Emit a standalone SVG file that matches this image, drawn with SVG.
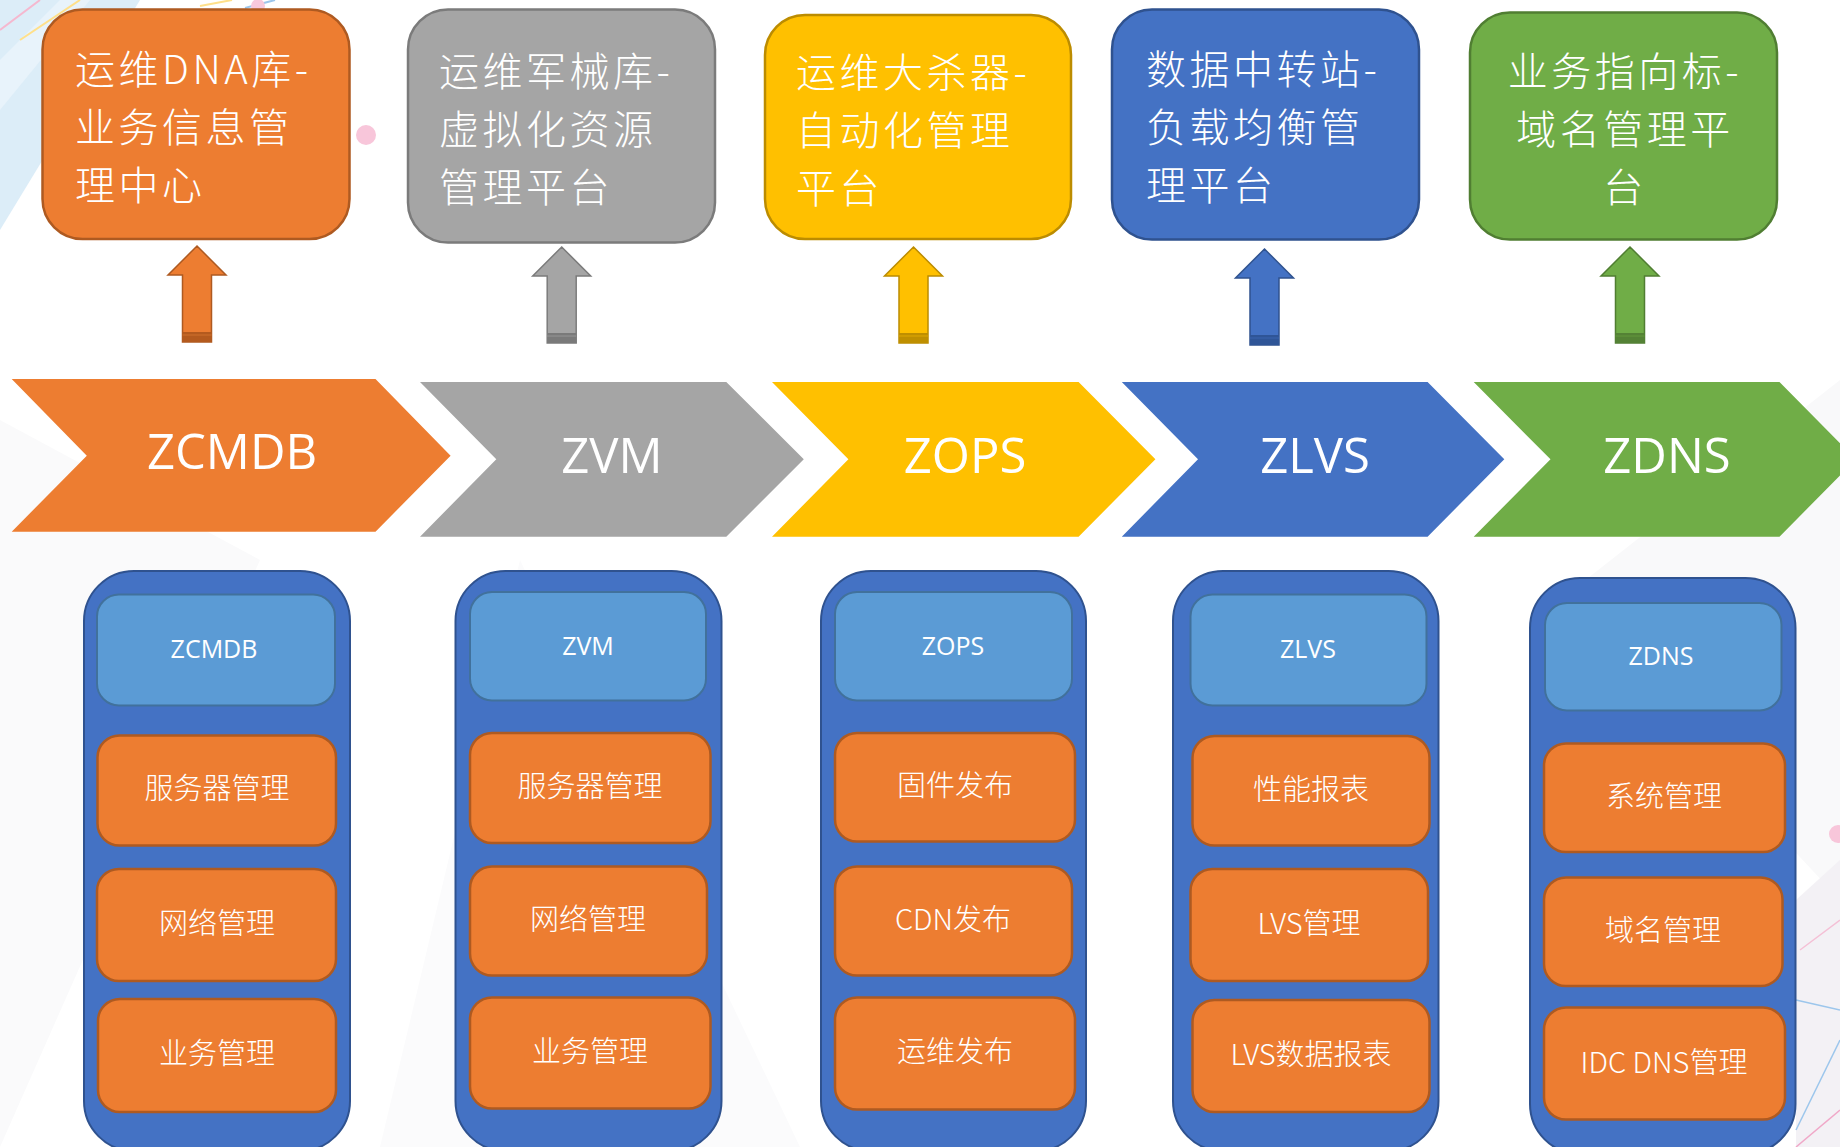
<svg xmlns="http://www.w3.org/2000/svg" width="1840" height="1147" viewBox="0 0 1840 1147">
<defs>
<style>
.bg{fill:#ffffff}
.title{font-family:"Noto Sans CJK SC","Noto Sans",sans-serif;font-size:40px;font-weight:300;letter-spacing:3.5px;fill:#ffffff}
.chev{font-family:"Open Sans","Noto Sans",sans-serif;font-size:49px;fill:#ffffff;text-anchor:middle}
.hdr{font-family:"Open Sans","Noto Sans",sans-serif;font-size:25px;fill:#ffffff;text-anchor:middle}
.item{font-family:"Noto Sans CJK SC","Noto Sans",sans-serif;font-size:29px;font-weight:300;fill:#ffffff;text-anchor:middle}
.orange{fill:#ED7D31;stroke:#AE5A21}
.gray{fill:#A5A5A5;stroke:#7B7B7B}
.yellow{fill:#FFC000;stroke:#BC8C00}
.blue{fill:#4472C4;stroke:#2F528F}
.green{fill:#70AD47;stroke:#507E32}
.box{stroke-width:2.5}
.chevron{stroke:none}
.arrow{stroke-width:1.5}
.col{fill:#4472C4;stroke:#2F528F;stroke-width:2}
.head{fill:#5B9BD5;stroke:#41719C;stroke-width:2}
.sub{fill:#ED7D31;stroke:#AE5A21;stroke-width:2.5}
.band-o{fill:#B45A1E}
.band-g{fill:#7A7A7A}
.band-y{fill:#BF8F00}
.band-b{fill:#2F5597}
.band-gr{fill:#548235}
</style>
<path id="arrowShape" d="M0,0 L29,29 L14.5,29 L14.5,96 L-14.5,96 L-14.5,29 L-29,29 Z"/>
</defs>

<rect class="bg" x="0" y="0" width="1840" height="1147"/>

<g id="background">
  <polygon points="0,0 140,0 0,230" fill="#dcedf8"/>
  <polygon points="0,60 60,0 90,0 0,110" fill="#e8f3fb"/>
  <line x1="0" y1="30" x2="40" y2="0" stroke="#f5b8cf" stroke-width="2"/>
  <line x1="20" y1="40" x2="80" y2="0" stroke="#ffe08a" stroke-width="2"/>
  <line x1="200" y1="6" x2="232" y2="0" stroke="#ffe08a" stroke-width="2"/>
  <line x1="245" y1="8" x2="275" y2="0" stroke="#9cc6ec" stroke-width="2"/>
  <circle cx="258" cy="6" r="7" fill="#f8c9dc"/>
  <polygon points="0,420 260,560 0,1147" fill="#fafafb"/>
  <polygon points="520,560 800,1147 380,1147" fill="#fbfbfc"/>
  <polygon points="1560,600 1840,380 1840,900" fill="#f9f9fa"/>
  <circle cx="366" cy="135" r="10" fill="#f8c6da"/>
  <circle cx="1838" cy="834" r="9" fill="#f8c6da"/>
  <polygon points="1796,900 1840,860 1840,1147 1796,1147" fill="#f3f1f5"/>
  <line x1="1796" y1="1000" x2="1840" y2="1010" stroke="#9cc6ec" stroke-width="1.5"/>
  <line x1="1796" y1="1130" x2="1840" y2="1040" stroke="#9cc6ec" stroke-width="1.5"/>
  <line x1="1796" y1="1147" x2="1840" y2="1110" stroke="#f0a8c8" stroke-width="1.5"/>
  <line x1="1800" y1="950" x2="1840" y2="920" stroke="#f4c0d6" stroke-width="1.5"/>
</g>

<g id="node-dna">
  <rect class="orange box" x="42.5" y="9.5" width="307" height="229.5" rx="40"/>
  <text class="title" x="75" y="84">运维DNA库-<tspan x="75" y="142">业务信息管</tspan><tspan x="75" y="200">理中心</tspan></text>
</g>
<g id="node-arsenal">
  <rect class="gray box" x="408" y="9.5" width="307" height="233" rx="40"/>
  <text class="title" x="439" y="86">运维军械库-<tspan x="439" y="144">虚拟化资源</tspan><tspan x="439" y="202">管理平台</tspan></text>
</g>
<g id="node-killer">
  <rect class="yellow box" x="765" y="15" width="306" height="224" rx="40"/>
  <text class="title" x="796" y="87">运维大杀器-<tspan x="796" y="145">自动化管理</tspan><tspan x="796" y="203">平台</tspan></text>
</g>
<g id="node-transfer">
  <rect class="blue box" x="1112" y="9.5" width="307" height="230" rx="40"/>
  <text class="title" x="1146" y="84">数据中转站-<tspan x="1146" y="142">负载均衡管</tspan><tspan x="1146" y="200">理平台</tspan></text>
</g>
<g id="node-pointer">
  <rect class="green box" x="1470" y="12.5" width="307" height="227" rx="40"/>
  <text class="title" x="1625" y="86" text-anchor="middle">业务指向标-<tspan x="1625" y="144">域名管理平</tspan><tspan x="1625" y="202">台</tspan></text>
</g>

<g id="connectors">
  <use href="#arrowShape" class="orange arrow" transform="translate(197,246)"/>
  <rect class="band-o" x="182.5" y="332" width="29" height="10"/>
  <line x1="182.5" y1="335" x2="211.5" y2="335" stroke="#D0702C" stroke-width="1"/>
  <use href="#arrowShape" class="gray arrow" transform="translate(561.7,247)"/>
  <rect class="band-g" x="547.2" y="333" width="29" height="10"/>
  <line x1="547.2" y1="336" x2="576.2" y2="336" stroke="#959595" stroke-width="1"/>
  <use href="#arrowShape" class="yellow arrow" transform="translate(913.5,247)"/>
  <rect class="band-y" x="899" y="333" width="29" height="10"/>
  <line x1="899" y1="336" x2="928" y2="336" stroke="#E0A800" stroke-width="1"/>
  <use href="#arrowShape" class="blue arrow" transform="translate(1264.5,249)"/>
  <rect class="band-b" x="1250" y="335" width="29" height="10"/>
  <line x1="1250" y1="338" x2="1279" y2="338" stroke="#3A64AE" stroke-width="1"/>
  <use href="#arrowShape" class="green arrow" transform="translate(1630,247)"/>
  <rect class="band-gr" x="1615.5" y="333" width="29" height="10"/>
  <line x1="1615.5" y1="336" x2="1644.5" y2="336" stroke="#62973D" stroke-width="1"/>
</g>

<g id="chevron-zcmdb">
  <polygon class="orange chevron" points="11.7,379 375.5,379 450.6,455.7 375.5,531.7 11.7,531.7 86.8,455.7"/>
  <text class="chev" x="232" y="469">ZCMDB</text>
</g>
<g id="chevron-zvm">
  <polygon class="gray chevron" points="420,382 726.3,382 803.8,459.3 726.3,536.7 420,536.7 496.3,459.3"/>
  <text class="chev" x="612" y="473">ZVM</text>
</g>
<g id="chevron-zops">
  <polygon class="yellow chevron" points="772,382 1078.6,382 1155.4,459.3 1078.6,536.7 772,536.7 848.4,459.3"/>
  <text class="chev" x="965" y="473">ZOPS</text>
</g>
<g id="chevron-zlvs">
  <polygon class="blue chevron" points="1121.8,382 1427.6,382 1504.3,459.3 1427.6,536.7 1121.8,536.7 1198,459.3"/>
  <text class="chev" x="1315" y="473">ZLVS</text>
</g>
<g id="chevron-zdns">
  <polygon class="green chevron" points="1473.7,382 1779.5,382 1856,459.3 1779.5,536.7 1473.7,536.7 1550.5,459.3"/>
  <text class="chev" x="1667" y="473">ZDNS</text>
</g>

<g id="column-zcmdb">
  <rect class="col" x="84" y="571" width="266" height="580" rx="50"/>
  <rect class="head" x="97" y="594.5" width="238" height="111" rx="22"/>
  <text class="hdr" x="214" y="658">ZCMDB</text>
  <rect class="sub" x="97.5" y="735.5" width="238.5" height="110" rx="22"/>
  <text class="item" x="217" y="799">服务器管理</text>
  <rect class="sub" x="97" y="869" width="239" height="112" rx="22"/>
  <text class="item" x="217" y="934">网络管理</text>
  <rect class="sub" x="98" y="999" width="238" height="113" rx="22"/>
  <text class="item" x="217" y="1064">业务管理</text>
</g>
<g id="column-zvm">
  <rect class="col" x="455.5" y="571" width="266" height="580" rx="50"/>
  <rect class="head" x="470" y="592" width="236" height="108.5" rx="22"/>
  <text class="hdr" x="588" y="655">ZVM</text>
  <rect class="sub" x="470" y="733" width="240.5" height="110" rx="22"/>
  <text class="item" x="590" y="797">服务器管理</text>
  <rect class="sub" x="470" y="866.5" width="237" height="109" rx="22"/>
  <text class="item" x="588" y="930">网络管理</text>
  <rect class="sub" x="470" y="997.5" width="240.5" height="111" rx="22"/>
  <text class="item" x="590" y="1062">业务管理</text>
</g>
<g id="column-zops">
  <rect class="col" x="821" y="571" width="265" height="580" rx="50"/>
  <rect class="head" x="835" y="592" width="237" height="108.5" rx="22"/>
  <text class="hdr" x="953" y="655">ZOPS</text>
  <rect class="sub" x="835" y="733" width="240" height="108.5" rx="22"/>
  <text class="item" x="955" y="796">固件发布</text>
  <rect class="sub" x="835" y="866.5" width="237" height="109" rx="22"/>
  <text class="item" x="953" y="930">CDN发布</text>
  <rect class="sub" x="835" y="997.5" width="240" height="112" rx="22"/>
  <text class="item" x="955" y="1062">运维发布</text>
</g>
<g id="column-zlvs">
  <rect class="col" x="1173" y="571" width="265.5" height="580" rx="50"/>
  <rect class="head" x="1190.5" y="594.5" width="236" height="111" rx="22"/>
  <text class="hdr" x="1308" y="658">ZLVS</text>
  <rect class="sub" x="1192.5" y="736" width="237" height="109.5" rx="22"/>
  <text class="item" x="1311" y="800">性能报表</text>
  <rect class="sub" x="1190.5" y="869" width="237.5" height="112" rx="22"/>
  <text class="item" x="1309" y="934">LVS管理</text>
  <rect class="sub" x="1192.5" y="1000" width="237" height="112" rx="22"/>
  <text class="item" x="1311" y="1065">LVS数据报表</text>
</g>
<g id="column-zdns">
  <rect class="col" x="1530" y="578" width="265.5" height="576" rx="50"/>
  <rect class="head" x="1545" y="603" width="236.5" height="107.5" rx="22"/>
  <text class="hdr" x="1661" y="665">ZDNS</text>
  <rect class="sub" x="1544" y="743.5" width="241" height="108.5" rx="22"/>
  <text class="item" x="1664" y="807">系统管理</text>
  <rect class="sub" x="1544" y="877.5" width="238.5" height="108.5" rx="22"/>
  <text class="item" x="1663" y="941">域名管理</text>
  <rect class="sub" x="1544" y="1007.5" width="241" height="112" rx="22"/>
  <text class="item" x="1664" y="1073">IDC DNS管理</text>
</g>
</svg>
